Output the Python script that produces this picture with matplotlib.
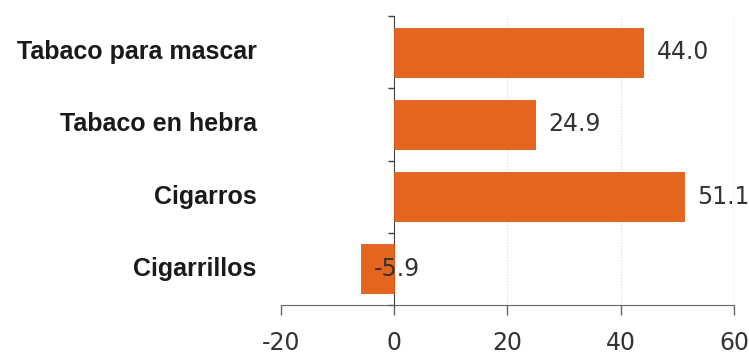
import matplotlib.pyplot as plt
from matplotlib.transforms import blended_transform_factory

categorias = ["Tabaco para mascar", "Tabaco en hebra", "Cigarros", "Cigarrillos"]
valores = [44.0, 24.9, 51.1, -5.9]
ticks_x = [-20, 0, 20, 40, 60]

plt.rcParams['font.family'] = ['Liberation Sans', 'DejaVu Sans']

fig = plt.figure(figsize=(7.49, 3.58), dpi=100)
ax = fig.add_axes([0.375, 0.148, 0.605, 0.807])

pos = list(range(len(categorias)))[::-1]
ax.barh(pos, valores, height=0.68, color='#E5651F', edgecolor='#D95A17', linewidth=0.6, zorder=3)

ax.set_xlim(-20, 60)
ax.set_ylim(-0.5, len(categorias) - 0.5)
ax.set_xticks(ticks_x)
ax.set_xticklabels([str(t) for t in ticks_x], fontsize=17, color='#333333', family='DejaVu Sans')
ax.tick_params(axis='x', length=7, width=1, color='#666666', pad=12)

# eje vertical en el cero con marcas entre categorías
ax.spines['left'].set_position(('data', 0))
ax.spines['left'].set_color('#3a3f4a')
ax.spines['bottom'].set_color('#666666')
ax.spines['top'].set_visible(False)
ax.spines['right'].set_visible(False)
ax.set_yticks([p + 0.5 for p in range(-1, len(categorias))])
ax.set_yticklabels([])
ax.tick_params(axis='y', length=4, width=1, color='#3a3f4a')

for t in [20, 40]:
    ax.axvline(t, color='#D8D8D8', linewidth=0.8, linestyle=':', zorder=1)
ax.axvline(60, color='#E2E2E2', linewidth=1.0, zorder=1)

trans = blended_transform_factory(ax.transAxes, ax.transData)
for p, c in zip(pos, categorias):
    ax.text(-0.053, p, c, transform=trans, ha='right', va='center',
            fontsize=18, fontweight='bold', color='#1a1a1a')

for p, v in zip(pos, valores):
    ax.annotate(f"{v:.1f}", xy=(v, p), xytext=(9.5, 0),
                textcoords='offset points', ha='left', va='center',
                fontsize=17, color='#333333', family='DejaVu Sans', zorder=4)

fig.savefig('out.png', dpi=100)
